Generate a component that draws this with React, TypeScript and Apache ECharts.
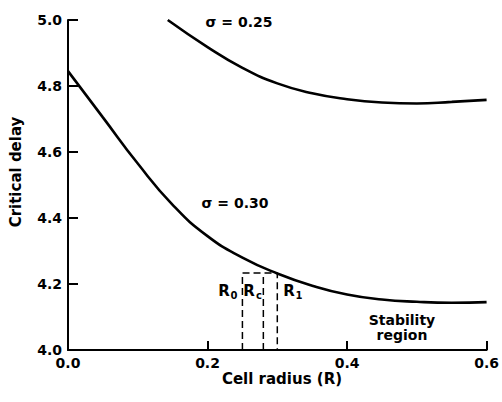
import React, { useEffect, useRef } from "react";
import * as echarts from "echarts";

// Cell radius (R) and critical delay values
const sigma030R = [0, 0.05, 0.1, 0.15, 0.2, 0.25, 0.3, 0.35, 0.4, 0.45, 0.5, 0.55, 0.6];
const sigma030V = [4.845, 4.705, 4.565, 4.44, 4.345, 4.28, 4.232, 4.195, 4.168, 4.153, 4.146, 4.143, 4.145];

const sigma025R = [0.143, 0.2, 0.25, 0.3, 0.35, 0.4, 0.45, 0.5, 0.55, 0.6];
const sigma025V = [5.0, 4.918, 4.855, 4.808, 4.778, 4.76, 4.75, 4.747, 4.752, 4.758];

// Dashed construction lines
const R0 = 0.25;
const Rc = 0.28;
const R1 = 0.3;
const boxTop = 4.233;
const boxBottom = 4.0;

const xTicks = [0, 0.2, 0.4, 0.6];
const yTicks = [4.0, 4.2, 4.4, 4.6, 4.8, 5.0];

const FONT = "'DejaVu Sans', 'Liberation Sans', sans-serif";

function zip(a: number[], b: number[]) {
  return a.map((v, i) => [v, b[i]]);
}

export default function App() {
  const ref = useRef<HTMLDivElement>(null);
  useEffect(() => {
    if (!ref.current) return;
    const chart = echarts.init(ref.current, undefined, { renderer: "svg" });
    const txt = (text: string, x: number, y: number, size: number, extra: any = {}, styleExtra: any = {}) => ({
      type: "text",
      x,
      y,
      ...extra,
      style: {
        text,
        fill: "#000",
        font: `bold ${size}px ${FONT}`,
        textAlign: "center",
        textVerticalAlign: "middle",
        ...styleExtra,
      },
    });
    const labels = [
      txt("σ = 0.25", 239, 22, 14),
      txt("σ = 0.30", 235, 203, 14),
      txt("R", 224, 291, 15),
      txt("0", 234, 295, 10),
      txt("R", 249, 291, 15),
      txt("c", 259, 295, 10),
      txt("R", 289, 291, 15),
      txt("1", 299, 295, 10),
      txt("Stability\nregion", 402, 327, 14, {}, { lineHeight: 15 }),
      txt("Cell radius (R)", 282, 379, 15),
      txt("Critical delay", 16, 172, 15, { rotation: Math.PI / 2 }),
    ];
    chart.setOption({
      animation: false,
      backgroundColor: "#fff",
      grid: { left: 68, right: 14, top: 20, bottom: 52 },
      xAxis: {
        type: "value",
        min: xTicks[0],
        max: xTicks[xTicks.length - 1],
        interval: 0.2,
        axisLine: { show: true, lineStyle: { color: "#000", width: 2 } },
        axisTick: { show: true, inside: true, length: 9, lineStyle: { color: "#000", width: 2 } },
        axisLabel: {
          color: "#000",
          fontFamily: FONT,
          fontWeight: "bold",
          fontSize: 14,
          margin: 6,
          formatter: (v: number) => v.toFixed(1),
        },
        splitLine: { show: false },
      },
      yAxis: {
        type: "value",
        min: yTicks[0],
        max: yTicks[yTicks.length - 1],
        interval: 0.2,
        axisLine: { show: true, lineStyle: { color: "#000", width: 2 } },
        axisTick: { show: true, inside: true, length: 10, lineStyle: { color: "#000", width: 2 } },
        axisLabel: {
          color: "#000",
          fontFamily: FONT,
          fontWeight: "bold",
          fontSize: 14,
          margin: 6,
          formatter: (v: number) => v.toFixed(1),
        },
        splitLine: { show: false },
      },
      series: [
        {
          type: "line",
          data: zip(sigma030R, sigma030V),
          smooth: 0.5,
          symbol: "none",
          lineStyle: { color: "#000", width: 2.6 },
        },
        {
          type: "line",
          data: zip(sigma025R, sigma025V),
          smooth: 0.5,
          symbol: "none",
          lineStyle: { color: "#000", width: 2.6 },
        },
        {
          type: "line",
          data: [
            [R0, boxBottom],
            [R0, boxTop],
            [R1, boxTop],
            [R1, boxBottom],
          ],
          symbol: "none",
          lineStyle: { color: "#000", width: 1.5, type: [7, 4] },
        },
        {
          type: "line",
          data: [
            [Rc, boxBottom],
            [Rc, boxTop],
          ],
          symbol: "none",
          lineStyle: { color: "#000", width: 1.5, type: [7, 4] },
        },
      ],
      graphic: labels,
    });
    return () => chart.dispose();
  }, []);
  return (
    <div
      ref={ref}
      style={{ position: "fixed", left: 0, top: 0, width: 502, height: 402, background: "#fff" }}
    />
  );
}
